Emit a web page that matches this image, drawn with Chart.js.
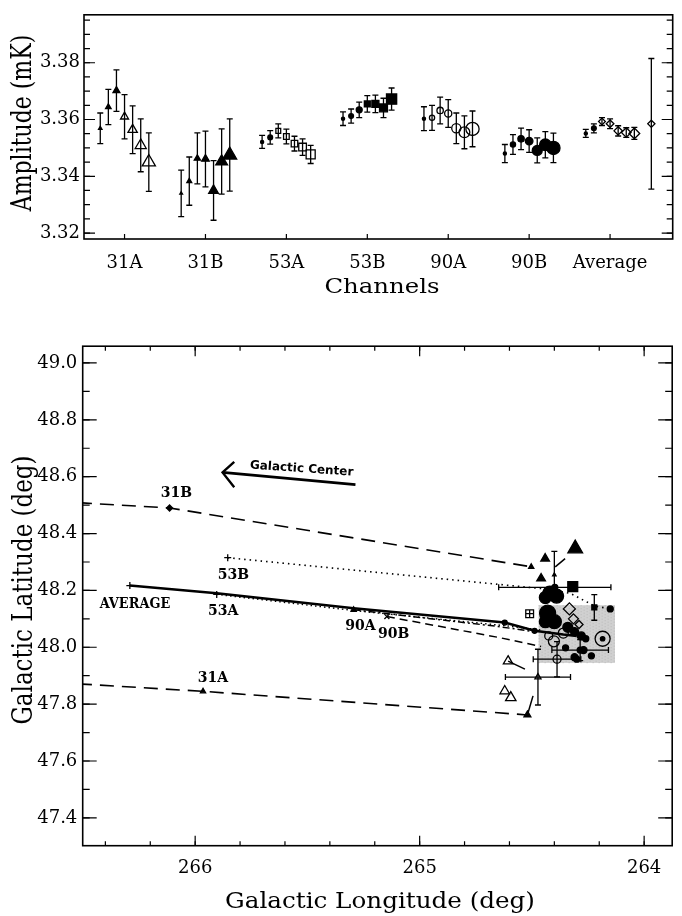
<!DOCTYPE html>
<html>
<head>
<meta charset="utf-8">
<script src="https://cdn.jsdelivr.net/npm/chart.js@4.4.1/dist/chart.umd.min.js"></script>
<style>
  body { margin: 0; background: #fff; }
  canvas { position: absolute; left: 0; }
  #amp { top: 0; }
  #pos { top: 330px; }
</style>
</head>
<body>
<canvas id="amp" width="682" height="305"></canvas>
<canvas id="pos" width="682" height="586"></canvas>
<script>
// ---------- top panel: dipole amplitude for each channel ----------
const channels = ['31A', '31B', '53A', '53B', '90A', '90B', 'Average'];
const slot = [-0.3, -0.2, -0.1, 0, 0.1, 0.2, 0.3];   // spread of the 7 points around each channel

const amp31A = [3.3569, 3.3644, 3.3702, 3.3610, 3.3564, 3.3509, 3.3450];
const err31A = [0.0054, 0.0062, 0.0073, 0.0078, 0.0084, 0.0093, 0.0103];
const amp31B = [3.3340, 3.3383, 3.3463, 3.3461, 3.3350, 3.3452, 3.3475];
const err31B = [0.0082, 0.0085, 0.0090, 0.0098, 0.0105, 0.0115, 0.0127];
const amp53A = [3.3521, 3.3537, 3.3560, 3.3540, 3.3515, 3.3503, 3.3477];
const err53A = [0.0023, 0.0024, 0.0025, 0.0026, 0.0026, 0.0029, 0.0032];
const amp53B = [3.3603, 3.3612, 3.3634, 3.3655, 3.3655, 3.3641, 3.3672];
const err53B = [0.0024, 0.0025, 0.0027, 0.0029, 0.0031, 0.0034, 0.0039];
const amp90A = [3.3603, 3.3606, 3.3632, 3.3621, 3.3569, 3.3555, 3.3567];
const err90A = [0.0042, 0.0044, 0.0047, 0.0049, 0.0054, 0.0058, 0.0063];
const amp90B = [3.3480, 3.3512, 3.3532, 3.3524, 3.3491, 3.3511, 3.3500];
const err90B = [0.0032, 0.0035, 0.0038, 0.0040, 0.0044, 0.0046, 0.0052];
const ampAvg = [3.3551, 3.3569, 3.3593, 3.3585, 3.3560, 3.3554, 3.3551];
const errAvg = [0.0014, 0.0016, 0.0014, 0.0017, 0.0018, 0.0017, 0.0021];
const ampAll = [3.3585];
const errAll = [0.0230];
const posAll = [7.51];
const ampTicks = [3.32, 3.34, 3.36, 3.38];

// ---------- bottom panel: dipole direction ----------
const lonTicks = [264, 265, 266];
const latTicks = [47.4, 47.6, 47.8, 48.0, 48.2, 48.4, 48.6, 48.8, 49.0];

// tracks of each channel (longitude, latitude)
const lon31B = [266.62, 266.114, 264.503];
const lat31B = [48.513, 48.490, 48.283];
const lon53B = [265.855, 264.44, 264.33, 264.22, 264.15];
const lat53B = [48.315, 48.205, 48.19, 48.145, 48.135];
const lonAvg = [266.291, 265.904, 265.294, 264.621, 264.488, 264.36, 264.30];
const latAvg = [48.217, 48.190, 48.137, 48.087, 48.058, 48.045, 48.04];
const lon53A = [265.904, 265.28, 264.621, 264.45];
const lat53A = [48.186, 48.128, 48.076, 48.06];
const lon90A = [265.294, 264.65, 264.49];
const lat90A = [48.132, 48.073, 48.055];
const lon90B = [265.146, 264.651, 264.459];
const lat90B = [48.108, 48.035, 48.003];
const lon31A = [266.62, 265.965, 264.52];
const lat31A = [47.876, 47.845, 47.762];

// short tails attached to some end points
const lonTail1 = [264.606, 264.531];
const latTail1 = [47.951, 47.923];
const lonTail2 = [264.52, 264.495];
const latTail2 = [47.762, 47.829];
const lonTail3 = [264.396, 264.352];
const latTail3 = [48.283, 48.312];

// arrow towards the Galactic Center
const lonArrow = [265.286, 265.878];
const latArrow = [48.572, 48.615];
const lonHead = [265.826, 265.878, 265.826];
const latHead = [48.652, 48.615, 48.563];

// end points gathered near 264.3, 48.05
const lonTriF = [264.503, 264.459, 264.441, 264.307, 264.52, 264.40];
const latTriF = [48.283, 48.242, 48.312, 48.347, 47.762, 48.255];
const latErrTriF = [0, 0, 0, 0, 0, 0.082];
const lonTriO = [264.606, 264.621, 264.594, 264.473];
const latTriO = [47.951, 47.846, 47.823, 47.895];
const lonErrTriO = [0, 0, 0, 0.145];
const latErrTriO = [0, 0, 0, 0.098];
const lonSqF = [264.318, 264.222];
const latSqF = [48.213, 48.14];
const latErrSqF = [0, 0.045];
const lonSqX = [264.51];
const latSqX = [48.118];
const lonDot = [264.42, 264.39, 264.44, 264.43, 264.40, 264.44, 264.34, 264.31, 264.28, 264.26,
                264.151, 264.398, 264.35, 264.31, 264.27, 264.235, 264.30, 264.285, 264.185];
const latDot = [48.19, 48.18, 48.175, 48.12, 48.09, 48.09, 48.07, 48.055, 48.04, 48.03,
                48.135, 48.211, 47.998, 47.965, 47.99, 47.97, 47.958, 47.99, 48.03];
const lonErrDot = [0, 0, 0, 0, 0, 0, 0, 0, 0, 0, 0, 0.25, 0, 0, 0, 0, 0, 0.126, 0];
const latErrDot = [0, 0, 0, 0, 0, 0, 0, 0, 0, 0, 0, 0, 0, 0, 0, 0, 0, 0.037, 0];
const lonCircO = [264.402, 264.425, 264.388, 264.36, 264.185];
const latCircO = [48.021, 48.04, 47.958, 48.05, 48.03];
const lonErrCircO = [0, 0, 0.106, 0, 0];
const latErrCircO = [0, 0, 0.062, 0, 0];
const lonDiam = [264.333, 264.315, 264.29];
const latDiam = [48.135, 48.1, 48.08];

// shaded region
const boxLon = [264.47, 264.13];
const boxLat = [47.945, 48.148];

// text labels on the sky plot
const noteText = ['31B', '53B', 'AVERAGE', '53A', '90A', '90B', '31A', 'Galactic Center'];
const noteLon = [266.084, 265.83, 266.268, 265.875, 265.264, 265.116, 265.921, 265.526];
const noteLat = [48.54, 48.254, 48.152, 48.128, 48.073, 48.044, 47.89, 48.627];

// ---------- helpers ----------
const BLACK = '#000';
const NONE = 'rgba(0,0,0,0)';
const SERIF = '"DejaVu Serif", serif';

function pts(xs, ys) {
  return xs.map((x, i) => ({ x: x, y: ys[i] }));
}
function range(a, b, step) {
  const out = [];
  const n = Math.round((b - a) / step);
  for (let k = 0; k <= n; k++) out.push(+(a + k * step).toFixed(4));
  return out;
}

// error bars, drawn under the markers
const errorBars = {
  id: 'errorBars',
  beforeDatasetsDraw(chart) {
    const { ctx, scales: { x, y } } = chart;
    ctx.save();
    ctx.strokeStyle = BLACK;
    ctx.lineWidth = 1.3;
    chart.data.datasets.forEach((ds, i) => {
      const meta = chart.getDatasetMeta(i);
      meta.data.forEach((el, j) => {
        const d = ds.data[j];
        const cap = 3;
        if (ds.yErr && ds.yErr[j]) {
          const y1 = y.getPixelForValue(d.y + ds.yErr[j]);
          const y2 = y.getPixelForValue(d.y - ds.yErr[j]);
          ctx.beginPath();
          ctx.moveTo(el.x, y1); ctx.lineTo(el.x, y2);
          ctx.moveTo(el.x - cap, y1); ctx.lineTo(el.x + cap, y1);
          ctx.moveTo(el.x - cap, y2); ctx.lineTo(el.x + cap, y2);
          ctx.stroke();
        }
        if (ds.xErr && ds.xErr[j]) {
          const x1 = x.getPixelForValue(d.x + ds.xErr[j]);
          const x2 = x.getPixelForValue(d.x - ds.xErr[j]);
          ctx.beginPath();
          ctx.moveTo(x1, el.y); ctx.lineTo(x2, el.y);
          ctx.moveTo(x1, el.y - cap); ctx.lineTo(x1, el.y + cap);
          ctx.moveTo(x2, el.y - cap); ctx.lineTo(x2, el.y + cap);
          ctx.stroke();
        }
      });
    });
    ctx.restore();
  }
};

// box frame with inward tick marks on the sides
const frameTicks = {
  id: 'frameTicks',
  afterDraw(chart, args, opts) {
    const { ctx, chartArea: a, scales } = chart;
    ctx.save();
    ctx.strokeStyle = BLACK;
    ctx.lineWidth = 1.6;
    ctx.strokeRect(a.left, a.top, a.right - a.left, a.bottom - a.top);
    ctx.lineWidth = 1.2;
    opts.marks.forEach(m => {
      const sc = scales[m.axis];
      m.values.forEach(v => {
        const p = sc.getPixelForValue(v);
        ctx.beginPath();
        if (m.axis === 'x') {
          ctx.moveTo(p, a.bottom); ctx.lineTo(p, a.bottom - m.len);
          if (m.both) { ctx.moveTo(p, a.top); ctx.lineTo(p, a.top + m.len); }
        } else {
          ctx.moveTo(a.left, p); ctx.lineTo(a.left + m.len, p);
          if (m.both) { ctx.moveTo(a.right, p); ctx.lineTo(a.right - m.len, p); }
        }
        ctx.stroke();
      });
    });
    ctx.restore();
  }
};

// axis titles, slightly widened like the scanned figure
const axisTitles = {
  id: 'axisTitles',
  afterDraw(chart, args, opts) {
    const ctx = chart.ctx;
    opts.items.forEach(t => {
      ctx.save();
      ctx.fillStyle = BLACK;
      ctx.font = t.font;
      ctx.textAlign = 'center';
      ctx.textBaseline = 'alphabetic';
      ctx.translate(t.x, t.y);
      ctx.scale(t.sx, 1);
      if (t.vertical) ctx.rotate(-Math.PI / 2);
      ctx.fillText(t.text, 0, 0);
      ctx.restore();
    });
  }
};

// shaded box on the sky plot
const shadedBox = {
  id: 'shadedBox',
  beforeDatasetsDraw(chart) {
    const { ctx, scales: { x, y } } = chart;
    const x1 = x.getPixelForValue(boxLon[0]), x2 = x.getPixelForValue(boxLon[1]);
    const y1 = y.getPixelForValue(boxLat[1]), y2 = y.getPixelForValue(boxLat[0]);
    ctx.save();
    ctx.fillStyle = '#d0d0d0';
    ctx.fillRect(x1, y1, x2 - x1, y2 - y1);
    ctx.fillStyle = '#b8b8b8';
    for (let px = x1; px < x2; px += 3) {
      for (let py = y1 + ((px - x1) % 6 ? 1.5 : 0); py < y2; py += 3) ctx.fillRect(px, py, 1, 1);
    }
    ctx.restore();
  }
};

// channel names and the galactic center note
const notes = {
  id: 'notes',
  afterDatasetsDraw(chart) {
    const { ctx, scales: { x, y } } = chart;
    noteText.forEach((txt, i) => {
      const px = x.getPixelForValue(noteLon[i]);
      const py = y.getPixelForValue(noteLat[i]);
      ctx.save();
      ctx.fillStyle = BLACK;
      ctx.textAlign = 'center';
      ctx.textBaseline = 'middle';
      ctx.translate(px, py);
      if (txt === 'Galactic Center') {
        ctx.rotate(4 * Math.PI / 180);
        ctx.font = 'bold 12px "DejaVu Sans", sans-serif';
      } else if (txt === 'AVERAGE') {
        ctx.scale(0.92, 1.1);
        ctx.font = 'bold 14px ' + SERIF;
      } else {
        ctx.font = 'bold 14px ' + SERIF;
      }
      ctx.fillText(txt, 0, 0);
      ctx.restore();
    });
  }
};

// ---------- top chart ----------
function channelSet(i, amps, errs, styles, radii, filled) {
  return {
    data: amps.map((v, k) => ({ x: i + 1 + slot[k], y: v })),
    yErr: errs,
    pointStyle: styles,
    pointRadius: radii,
    pointBackgroundColor: radii.map((r, k) => (k < filled ? BLACK : NONE)),
    pointBorderColor: BLACK,
    pointBorderWidth: 1.3
  };
}
const tri = Array(7).fill('triangle');
const circ = Array(7).fill('circle');

new Chart(document.getElementById('amp'), {
  type: 'scatter',
  data: {
    datasets: [
      channelSet(0, amp31A, err31A, tri, [2, 3.2, 4, 4.6, 5.4, 6.4, 7.6], 3),
      channelSet(1, amp31B, err31B, tri, [1.6, 2.8, 3.6, 4.4, 5.6, 6.8, 8], 7),
      channelSet(2, amp53A, err53A, ['circle', 'circle', 'rect', 'rect', 'rect', 'rect', 'rect'],
                 [1.6, 2.4, 3.4, 4, 4.6, 5.4, 6.4], 2),
      channelSet(3, amp53B, err53B, ['circle', 'circle', 'circle', 'rect', 'rect', 'rect', 'rect'],
                 [1.6, 2.4, 3, 4.2, 5, 5.6, 7.2], 7),
      channelSet(4, amp90A, err90A, circ, [1.6, 2.6, 3.2, 3.6, 4.6, 5.4, 6.6], 1),
      channelSet(5, amp90B, err90B, circ, [1.6, 2.6, 3.2, 3.8, 5, 5.8, 6.6], 7),
      channelSet(6, ampAvg, errAvg, ['circle', 'circle', 'rectRot', 'rectRot', 'rectRot', 'rectRot', 'rectRot'],
                 [1.6, 2.4, 3.4, 3.8, 4.2, 4.8, 5.4], 2),
      {
        data: pts(posAll, ampAll),
        yErr: errAll,
        pointStyle: 'rectRot',
        pointRadius: 3.6,
        pointBackgroundColor: NONE,
        pointBorderColor: BLACK,
        pointBorderWidth: 1.3
      }
    ]
  },
  options: {
    responsive: false,
    animation: false,
    layout: { padding: { left: 0, right: 2, top: 9.5, bottom: 0 } },
    plugins: {
      legend: { display: false },
      tooltip: { enabled: false },
      frameTicks: {
        marks: [
          { axis: 'y', values: range(3.32, 3.395, 0.005), len: 6, both: true },
          { axis: 'y', values: ampTicks, len: 11, both: true },
          { axis: 'x', values: [1, 2, 3, 4, 5, 6, 7], len: 5 }
        ]
      },
      axisTitles: {
        items: [
          { text: 'Amplitude (mK)', x: 31, y: 123, vertical: true, sx: 1.3, font: '22px ' + SERIF },
          { text: 'Channels', x: 382, y: 293, sx: 1.22, font: '20px ' + SERIF }
        ]
      }
    },
    scales: {
      x: {
        type: 'linear',
        min: 0.499,
        max: 7.774,
        afterBuildTicks: s => { s.ticks = channels.map((c, i) => ({ value: i + 1 })); },
        afterFit: s => { s.height = 66; },
        grid: { display: false, drawTicks: false },
        border: { display: false },
        ticks: {
          padding: 14,
          color: BLACK,
          font: { family: SERIF, size: 18 },
          callback: v => channels[Math.round(v) - 1]
        }
      },
      y: {
        min: 3.3179,
        max: 3.3969,
        afterBuildTicks: s => { s.ticks = ampTicks.map(v => ({ value: v })); },
        afterFit: s => { s.width = 84; },
        grid: { display: false, drawTicks: false },
        border: { display: false },
        ticks: {
          padding: 4,
          color: BLACK,
          font: { family: SERIF, size: 18 },
          callback: v => v.toFixed(2)
        }
      }
    }
  },
  plugins: [errorBars, frameTicks, axisTitles]
});

// ---------- bottom chart ----------
function track(lons, lats, dash, width, radii, styles) {
  return {
    data: pts(lons, lats),
    showLine: true,
    borderColor: BLACK,
    borderWidth: width,
    borderDash: dash,
    pointRadius: radii,
    pointStyle: styles,
    pointBackgroundColor: BLACK,
    pointBorderColor: BLACK,
    pointBorderWidth: 1.3
  };
}
function marks(lons, lats, style, radii, fill, xErr, yErr) {
  return {
    data: pts(lons, lats),
    xErr: xErr,
    yErr: yErr,
    pointStyle: style,
    pointRadius: radii,
    pointBackgroundColor: fill,
    pointBorderColor: BLACK,
    pointBorderWidth: 1.3
  };
}

new Chart(document.getElementById('pos'), {
  type: 'scatter',
  data: {
    datasets: [
      track(lon31B, lat31B, [14, 8], 1.6, [0, 3, 0], ['rectRot', 'rectRot', 'rectRot']),
      track(lon53B, lat53B, [1.5, 4], 1.6, [3.5, 0, 0, 0, 0], ['cross', 'circle', 'circle', 'circle', 'circle']),
      track(lon53A, lat53A, [1.5, 3], 1.4, [3.5, 0, 0, 0], ['cross', 'circle', 'circle', 'circle']),
      track(lon90A, lat90A, [7, 3, 2, 3], 1.5, [3, 0, 0], ['triangle', 'circle', 'circle']),
      track(lon90B, lat90B, [8, 5], 1.5, [3.5, 0, 0], ['crossRot', 'circle', 'circle']),
      track(lonAvg, latAvg, [], 2.6, [3.5, 0, 0, 2.5, 2.5, 0, 0],
            ['cross', 'circle', 'circle', 'circle', 'circle', 'circle', 'circle']),
      track(lon31A, lat31A, [14, 8], 1.6, [0, 3, 0], ['triangle', 'triangle', 'triangle']),
      track(lonTail1, latTail1, [], 1.5, [0, 0], ['circle', 'circle']),
      track(lonTail2, latTail2, [], 1.5, [0, 0], ['circle', 'circle']),
      track(lonTail3, latTail3, [], 1.5, [0, 0], ['circle', 'circle']),
      track(lonArrow, latArrow, [], 2.8, [0, 0], ['circle', 'circle']),
      track(lonHead, latHead, [], 2.4, [0, 0, 0], ['circle', 'circle', 'circle']),
      marks(lonTriF, latTriF, 'triangle', [3, 5, 5, 8.5, 4, 2], BLACK, null, latErrTriF),
      marks(lonTriO, latTriO, 'triangle', [5.5, 5.5, 6, 3.5], NONE, lonErrTriO, latErrTriO),
      marks(lonSqF, latSqF, 'rect', [7, 3.5], BLACK, null, latErrSqF),
      marks(lonSqX, latSqX, 'rect', [5.5], NONE, null, null),
      marks(lonSqX, latSqX, 'cross', [3.8], NONE, null, null),
      marks(lonDot, latDot, 'circle', [7, 7, 6, 8, 7, 6, 5, 4, 4, 3, 3, 3, 3, 3.5, 3.5, 3, 3, 3, 2.2],
            BLACK, lonErrDot, latErrDot),
      marks(lonCircO, latCircO, 'circle', [5.5, 4, 4, 5, 7.5], NONE, lonErrCircO, latErrCircO),
      marks(lonDiam, latDiam, 'rectRot', [6, 5, 4], NONE, null, null)
    ]
  },
  options: {
    responsive: false,
    animation: false,
    layout: { padding: { left: 0, right: 7, top: 13, bottom: 0 } },
    plugins: {
      legend: { display: false },
      tooltip: { enabled: false },
      frameTicks: {
        marks: [
          { axis: 'y', values: range(47.4, 49.0, 0.1), len: 7, both: true },
          { axis: 'y', values: latTicks, len: 14, both: true },
          { axis: 'x', values: range(264.0, 266.4, 0.2), len: 4.5, both: true },
          { axis: 'x', values: lonTicks, len: 10, both: true }
        ]
      },
      axisTitles: {
        items: [
          { text: 'Galactic Latitude (deg)', x: 31.5, y: 260, vertical: true, sx: 1.25, font: '23px ' + SERIF },
          { text: 'Galactic Longitude (deg)', x: 380, y: 578, sx: 1.07, font: '23px ' + SERIF }
        ]
      }
    },
    scales: {
      x: {
        type: 'linear',
        reverse: true,
        min: 263.875,
        max: 266.501,
        afterBuildTicks: s => { s.ticks = lonTicks.map(v => ({ value: v })); },
        afterFit: s => { s.height = 70.3; },
        grid: { display: false, drawTicks: false },
        border: { display: false },
        ticks: {
          padding: 12,
          color: BLACK,
          font: { family: SERIF, size: 18 },
          callback: v => String(v)
        }
      },
      y: {
        min: 47.302,
        max: 49.059,
        afterBuildTicks: s => { s.ticks = latTicks.map(v => ({ value: v })); },
        afterFit: s => { s.width = 82.7; },
        grid: { display: false, drawTicks: false },
        border: { display: false },
        ticks: {
          padding: 5.4,
          color: BLACK,
          font: { family: SERIF, size: 18 },
          callback: v => v.toFixed(1)
        }
      }
    }
  },
  plugins: [shadedBox, errorBars, frameTicks, axisTitles, notes]
});
</script>
</body>
</html>
